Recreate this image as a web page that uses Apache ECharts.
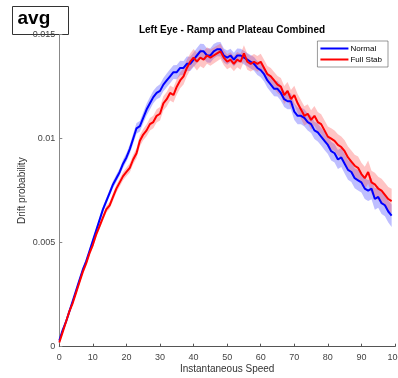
<!DOCTYPE html>
<html>
<head>
<meta charset="utf-8">
<script src="https://cdn.jsdelivr.net/npm/echarts@6/dist/echarts.min.js"></script>
<style>
  html, body { margin: 0; padding: 0; background: #fff; }
  #chart { width: 398px; height: 378px; }
</style>
</head>
<body>
<div id="chart"></div>
<script>
// Instantaneous speed bins
const speeds = [
  0,1,2,3,4,5,6,7,8,9,10,11,12,13,14,15,16,17,18,19,
  20,21,22,23,24,25,26,27,28,29,30,31,32,33,34,35,36,37,38,39,
  40,41,42,43,44,45,46,47,48,49,50,51,52,53,54,55,56,57,58,59,
  60,61,62,63,64,65,66,67,68,69,70,71,72,73,74,75,76,77,78,79,
  80,81,82,83,84,85,86,87,88,89,90,91,92,93,94,95,96,97,98,99
];

// Mean drift probability, Normal condition
const normalMean = [
  0.0003,0.0008,0.0012,0.0017,0.0022,0.0027,0.0032,0.0037,0.0041,0.0046,
  0.0051,0.0056,0.0061,0.0066,0.0070,0.0074,0.0078,0.0081,0.0084,0.0088,
  0.0091,0.0095,0.0100,0.0105,0.0106,0.0110,0.0114,0.0117,0.0120,0.0122,
  0.0123,0.0126,0.0128,0.0130,0.0132,0.0132,0.0134,0.0134,0.0136,0.0136,
  0.0138,0.0140,0.0142,0.0142,0.0140,0.0140,0.0142,0.0143,0.0143,0.0140,
  0.0139,0.0140,0.0138,0.0140,0.0140,0.0139,0.0138,0.0137,0.0136,0.0134,
  0.0133,0.0131,0.0128,0.0126,0.0124,0.0124,0.0122,0.0119,0.0118,0.0118,
  0.0113,0.0111,0.0111,0.0110,0.0108,0.0107,0.0104,0.0103,0.0101,0.0099,
  0.0097,0.0094,0.0093,0.0090,0.0091,0.0088,0.0085,0.0084,0.0081,0.0080,
  0.0079,0.0076,0.0075,0.0076,0.0071,0.0072,0.0069,0.0068,0.0065,0.0063
];

// Standard error, Normal condition
const normalErr = [
  0.00005,0.00008,0.00008,0.0001,0.0001,0.0001,0.0001,0.00012,0.00012,0.00012,
  0.00013,0.00013,0.00014,0.00015,0.00015,0.00016,0.00017,0.00018,0.00018,0.0002,
  0.0002,0.00022,0.00024,0.00026,0.00025,0.00026,0.00028,0.0003,0.0003,0.0003,
  0.00032,0.00032,0.00033,0.00034,0.00033,0.00034,0.00035,0.00034,0.00035,0.00034,
  0.00035,0.00036,0.00036,0.00035,0.00034,0.00035,0.00035,0.00034,0.00035,0.00034,
  0.00034,0.00033,0.00033,0.00034,0.00033,0.00033,0.00032,0.00033,0.00033,0.00034,
  0.00034,0.00035,0.00035,0.00036,0.00036,0.00037,0.00037,0.00038,0.00038,0.00039,
  0.0004,0.0004,0.0004,0.00041,0.00041,0.00042,0.00042,0.00043,0.00043,0.00044,
  0.00044,0.00045,0.00045,0.00046,0.00046,0.00047,0.00047,0.00048,0.00048,0.00049,
  0.00049,0.0005,0.0005,0.00051,0.00051,0.00052,0.00052,0.00053,0.00053,0.00054
];

// Mean drift probability, Full Stab condition
const stabMean = [
  0.0002,0.0007,0.0012,0.0017,0.0021,0.0026,0.0031,0.0036,0.0040,0.0045,
  0.0049,0.0054,0.0058,0.0062,0.0066,0.0068,0.0072,0.0076,0.0079,0.0082,
  0.0084,0.0086,0.0090,0.0093,0.0099,0.0102,0.0104,0.0107,0.0108,0.0111,
  0.0112,0.0117,0.0119,0.0122,0.0121,0.0125,0.0128,0.0130,0.0134,0.0137,
  0.0139,0.0137,0.0139,0.0138,0.0140,0.0139,0.0140,0.0141,0.0142,0.0139,
  0.0137,0.0138,0.0136,0.0138,0.0137,0.0141,0.0137,0.0136,0.0137,0.0136,
  0.0137,0.0134,0.0131,0.0130,0.0128,0.0126,0.0125,0.0121,0.0123,0.0119,
  0.0121,0.0117,0.0114,0.0111,0.0112,0.0109,0.0111,0.0108,0.0107,0.0104,
  0.0101,0.0100,0.0099,0.0097,0.0096,0.0094,0.0091,0.0089,0.0087,0.0086,
  0.0083,0.0081,0.0084,0.0079,0.0078,0.0076,0.0075,0.0073,0.0071,0.0070
];

// Standard error, Full Stab condition
const stabErr = [
  0.00005,0.00008,0.00008,0.0001,0.0001,0.0001,0.0001,0.00012,0.00012,0.00012,
  0.00013,0.00013,0.00014,0.00015,0.00016,0.00017,0.00018,0.00019,0.0002,0.0002,
  0.00021,0.00022,0.00023,0.00024,0.00026,0.00027,0.00028,0.0003,0.0003,0.00032,
  0.00033,0.00034,0.00035,0.00036,0.00036,0.00037,0.00038,0.00039,0.0004,0.0004,
  0.00041,0.00042,0.00042,0.00041,0.0004,0.00039,0.00038,0.00038,0.00037,0.00037,
  0.00036,0.00036,0.00036,0.00037,0.00038,0.00039,0.00038,0.00037,0.00037,0.00038,
  0.00038,0.00039,0.0004,0.0004,0.00041,0.00042,0.00042,0.00043,0.00043,0.00044,
  0.00044,0.00045,0.00045,0.00046,0.00046,0.00047,0.00047,0.00048,0.00048,0.00049,
  0.00049,0.0005,0.0005,0.00051,0.00051,0.00052,0.00052,0.00053,0.00053,0.00054,
  0.00054,0.00055,0.00055,0.00056,0.00056,0.00057,0.00057,0.00058,0.00058,0.00059
];

const xTicks = [0, 10, 20, 30, 40, 50, 60, 70, 80, 90, 100];
const yTicks = [0, 0.005, 0.01, 0.015];

const FONT = '"Liberation Sans", Arial, sans-serif';

function pairs(vals) { return speeds.map((x, i) => [x, vals[i]]); }

// Shaded mean ± error band, drawn as one polygon through the axis scales
function band(name, mean, err, color) {
  return {
    name: name + ' band', type: 'custom', silent: true, z: 1,
    data: [[0]],
    renderItem: function (params, api) {
      const upper = speeds.map((x, i) => api.coord([x, mean[i] + err[i]]));
      const lower = speeds.map((x, i) => api.coord([x, mean[i] - err[i]])).reverse();
      return {
        type: 'polygon',
        shape: { points: upper.concat(lower) },
        style: { fill: color, stroke: null }
      };
    }
  };
}

const chart = echarts.init(document.getElementById('chart'), null, { renderer: 'canvas' });

chart.setOption({
  animation: false,
  backgroundColor: '#fff',
  textStyle: { fontFamily: FONT },
  title: {
    text: 'Left Eye - Ramp and Plateau Combined',
    left: 227, top: 20, textAlign: 'center',
    textStyle: { fontSize: 10, fontWeight: 'bold', color: '#000', fontFamily: FONT }
  },
  legend: {
    data: ['Normal', 'Full Stab'],
    orient: 'vertical',
    right: 10, top: 41,
    itemWidth: 28, itemHeight: 2, itemGap: 0,
    icon: 'rect',
    padding: [2, 6, 2, 3],
    borderColor: '#555', borderWidth: 0.6,
    backgroundColor: '#fff',
    textStyle: { fontSize: 8, color: '#000', fontFamily: FONT, padding: [0, 0, 0, -3], lineHeight: 11 }
  },
  grid: { left: 59.3, right: 3, top: 34.7, bottom: 31.3, containLabel: false, outerBoundsMode: 'none' },
  xAxis: {
    type: 'value', min: 0, max: 100, interval: 10,
    name: 'Instantaneous Speed', nameLocation: 'middle', nameGap: 18, nameMoveOverlap: false,
    nameTextStyle: { fontSize: 10, color: '#333', fontFamily: FONT },
    axisLine: { lineStyle: { color: '#555', width: 1 } },
    axisTick: { inside: true, length: 3, lineStyle: { color: '#555' } },
    axisLabel: { fontSize: 9, color: '#444', margin: 6, fontFamily: FONT,
      formatter: v => xTicks.includes(v) ? String(v) : '' },
    splitLine: { show: false }
  },
  yAxis: {
    type: 'value', min: 0, max: 0.015, interval: 0.005,
    name: 'Drift probability', nameLocation: 'middle', nameGap: 32, nameRotate: 90, nameMoveOverlap: false,
    nameTextStyle: { fontSize: 10, color: '#333', fontFamily: FONT },
    axisLine: { show: true, lineStyle: { color: '#888', width: 1 } },
    axisTick: { show: true, inside: true, length: 3, lineStyle: { color: '#888' } },
    axisLabel: { fontSize: 9, color: '#444', margin: 4, fontFamily: FONT,
      formatter: v => { const t = yTicks.find(k => Math.abs(k - v) < 1e-9); return t === undefined ? '' : String(t); } },
    splitLine: { show: false }
  },
  graphic: [
    {
      type: 'group', left: 12, top: 6, z: -1,
      children: [
        { type: 'rect', shape: { x: 0, y: 0, width: 56, height: 28 },
          style: { fill: '#fff', stroke: '#333', lineWidth: 1 } },
        { type: 'text', left: 5, top: 3,
          style: { text: 'avg', font: 'bold 19px ' + FONT, fill: '#000' } }
      ]
    }
  ],
  series: [
    band('Normal', normalMean, normalErr, 'rgba(70,70,255,0.35)'),
    band('Full Stab', stabMean, stabErr, 'rgba(255,70,70,0.32)'),
    {
      name: 'Normal', type: 'line', data: pairs(normalMean), symbol: 'none',
      lineStyle: { color: '#0000ff', width: 2 }, itemStyle: { color: '#0000ff' }, z: 3
    },
    {
      name: 'Full Stab', type: 'line', data: pairs(stabMean), symbol: 'none',
      lineStyle: { color: '#ff0000', width: 2 }, itemStyle: { color: '#ff0000' }, z: 4
    }
  ]
});
</script>
</body>
</html>
